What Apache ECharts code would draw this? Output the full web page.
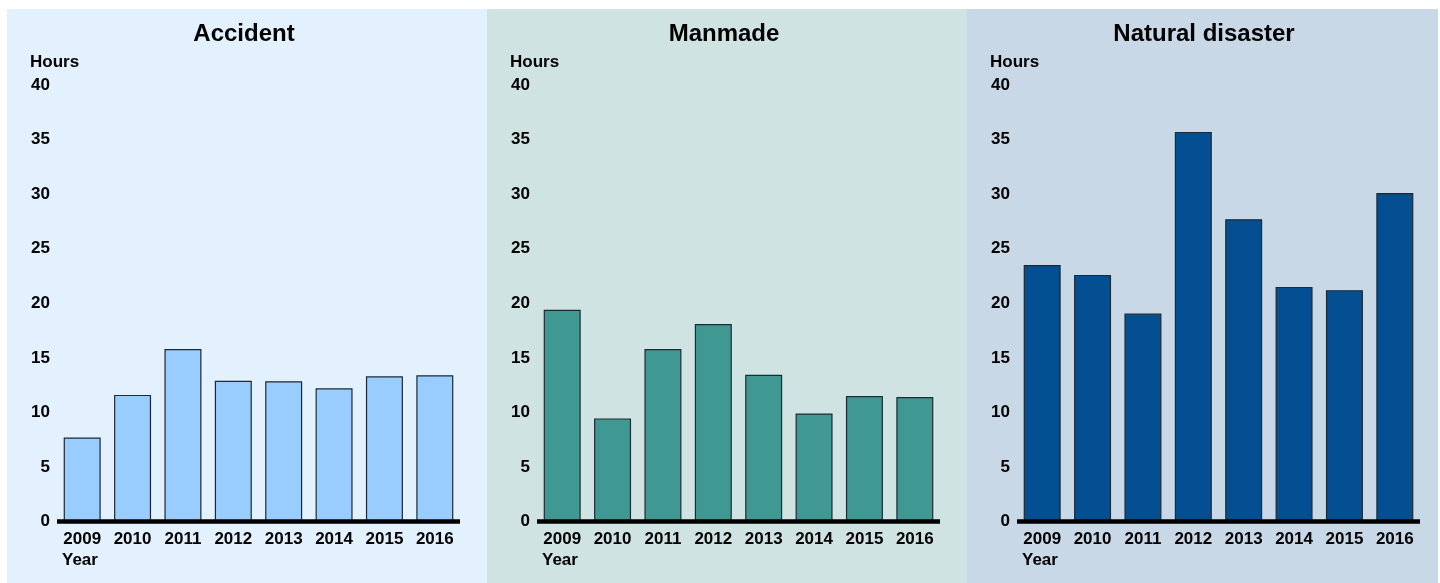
<!DOCTYPE html>
<html>
<head>
<meta charset="utf-8">
<script src="https://cdn.jsdelivr.net/npm/echarts@6/dist/echarts.min.js"></script>
<style>
  html, body { margin: 0; padding: 0; background: #fff; }
  #chart { width: 1440px; height: 583px; }
</style>
</head>
<body>
<div id="chart"></div>
<script>
// data
const years = ['2009', '2010', '2011', '2012', '2013', '2014', '2015', '2016']
const accident = [7.7, 11.6, 15.8, 12.9, 12.85, 12.2, 13.3, 13.4]
const manmade = [19.4, 9.45, 15.8, 18.1, 13.45, 9.9, 11.5, 11.4]
const naturalDisaster = [23.5, 22.6, 19.05, 35.7, 27.7, 21.5, 21.2, 30.1]
const panelTitles = ['Accident', 'Manmade', 'Natural disaster']
const yMin = 0
const yMax = 40
const yStep = 5

const seriesData = [accident, manmade, naturalDisaster]
const barColors = ['#99ccff', '#3f9891', '#044f91']
const panelColors = ['#e3f0fd', '#cfe4e2', '#c8d8e7']
const font = '"Liberation Sans", Arial, sans-serif'

const chart = echarts.init(document.getElementById('chart'))

const grids = []
const xAxes = []
const yAxes = []
const series = []
const graphics = []

panelTitles.forEach((title, i) => {
  const off = 480 * i
  grids.push({ left: 57 + off, width: 403, top: 85, bottom: 61.5 })
  xAxes.push({
    type: 'category',
    gridIndex: i,
    data: years,
    z: 5, // baseline sits on top of the bars
    axisTick: { show: false },
    axisLine: { lineStyle: { color: '#000', width: 4.5, cap: 'butt' } },
    axisLabel: {
      color: '#000',
      fontFamily: font,
      fontWeight: 'bold',
      fontSize: 17,
      margin: 9
    }
  })
  yAxes.push({
    type: 'value',
    gridIndex: i,
    min: yMin,
    max: yMax,
    interval: yStep,
    splitLine: { show: false },
    axisLine: { show: false },
    axisTick: { show: false },
    axisLabel: {
      color: '#000',
      fontFamily: font,
      fontWeight: 'bold',
      fontSize: 17,
      margin: 7
    }
  })
  series.push({
    name: title,
    type: 'bar',
    xAxisIndex: i,
    yAxisIndex: i,
    barWidth: 37,
    data: seriesData[i],
    itemStyle: {
      color: barColors[i],
      borderColor: '#1e2a33',
      borderWidth: 1.2
    }
  })
  // panel background + texts
  graphics.push({
    type: 'rect',
    z: -10,
    shape: { x: 7 + off, y: 9, width: i === 2 ? 471 : 480, height: 574 },
    style: { fill: panelColors[i] }
  })
  graphics.push({
    type: 'text',
    x: 244 + off,
    y: 34,
    style: { text: title, font: 'bold 24px ' + font, fill: '#000', align: 'center', verticalAlign: 'middle' }
  })
  graphics.push({
    type: 'text',
    x: 30 + off,
    y: 62,
    style: { text: 'Hours', font: 'bold 17px ' + font, fill: '#000', align: 'left', verticalAlign: 'middle' }
  })
  graphics.push({
    type: 'text',
    x: 62 + off,
    y: 560,
    style: { text: 'Year', font: 'bold 17px ' + font, fill: '#000', align: 'left', verticalAlign: 'middle' }
  })
})

chart.setOption({
  animation: false,
  backgroundColor: '#fff',
  graphic: graphics,
  grid: grids,
  xAxis: xAxes,
  yAxis: yAxes,
  series: series
})
</script>
</body>
</html>
